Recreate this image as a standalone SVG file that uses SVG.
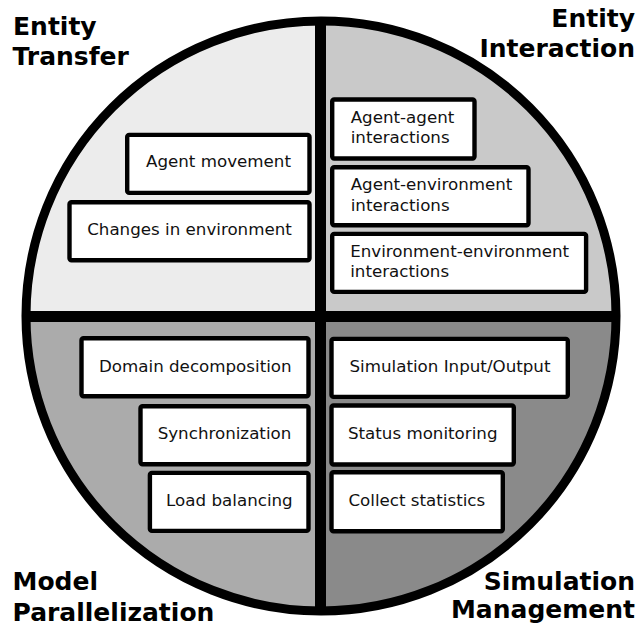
<svg xmlns="http://www.w3.org/2000/svg" width="639" height="628" viewBox="0 0 639 628">
  <style>
    .box { fill: #ffffff; stroke: #000000; stroke-width: 4.4; }
    .lbl { font-family: "DejaVu Sans", "Liberation Sans", sans-serif; font-size: 16.7px; fill: #111111; }
    .mid { text-anchor: middle; }
    .title { font-family: "DejaVu Sans", "Liberation Sans", sans-serif; font-size: 25px; font-weight: bold; fill: #000000; }
    .end { text-anchor: end; }
    .div { stroke: #000000; stroke-width: 11; }
  </style>

  <!-- quadrant fills -->
  <g id="quadrants">
    <path d="M321,316 L26,316 A295,295 0 0 1 321,21 Z" fill="#ececec"/>
    <path d="M321,316 L321,21 A295,295 0 0 1 616,316 Z" fill="#c9c9c9"/>
    <path d="M321,316 L26,316 A295,295 0 0 0 321,611 Z" fill="#ababab"/>
    <path d="M321,316 L616,316 A295,295 0 0 1 321,611 Z" fill="#8a8a8a"/>
  </g>

  <!-- outline and dividers -->
  <g id="connectors">
    <circle cx="321" cy="316" r="295" fill="none" stroke="#000000" stroke-width="9"/>
    <line class="div" x1="320.5" y1="21" x2="320.5" y2="611"/>
    <line class="div" x1="26" y1="316.5" x2="616" y2="316.5"/>
  </g>

  <!-- quadrant titles -->
  <g id="title-transfer">
    <text class="title" x="13" y="35">Entity</text>
    <text class="title" x="12.5" y="65">Transfer</text>
  </g>
  <g id="title-interaction">
    <text class="title end" x="635" y="27">Entity</text>
    <text class="title end" x="635" y="57">Interaction</text>
  </g>
  <g id="title-parallelization">
    <text class="title" x="12.5" y="590">Model</text>
    <text class="title" x="12.5" y="620.5">Parallelization</text>
  </g>
  <g id="title-management">
    <text class="title end" x="635" y="590">Simulation</text>
    <text class="title end" x="635" y="618">Management</text>
  </g>

  <!-- Entity Transfer -->
  <g id="agent-movement">
    <rect class="box" x="127.2" y="134.9" width="182.3" height="58" rx="2"/>
    <text class="lbl mid" x="218.5" y="166.7">Agent movement</text>
  </g>
  <g id="changes-in-environment">
    <rect class="box" x="69.5" y="202.2" width="240" height="58" rx="2"/>
    <text class="lbl mid" x="189.5" y="235">Changes in environment</text>
  </g>

  <!-- Entity Interaction -->
  <g id="agent-agent">
    <rect class="box" x="332.2" y="99.5" width="142.3" height="59" rx="2"/>
    <text class="lbl" x="350.7" y="123.3">Agent-agent</text>
    <text class="lbl" x="350.7" y="143.3">interactions</text>
  </g>
  <g id="agent-environment">
    <rect class="box" x="332.2" y="167.2" width="196.3" height="58" rx="2"/>
    <text class="lbl" x="350.7" y="190">Agent-environment</text>
    <text class="lbl" x="350.7" y="210.5">interactions</text>
  </g>
  <g id="environment-environment">
    <rect class="box" x="332.2" y="233.9" width="253.9" height="58" rx="2"/>
    <text class="lbl" x="350.2" y="256.7">Environment-environment</text>
    <text class="lbl" x="350.2" y="276.7">interactions</text>
  </g>

  <!-- Model Parallelization -->
  <g id="domain-decomposition">
    <rect class="box" x="81.5" y="338.2" width="227" height="58" rx="2"/>
    <text class="lbl mid" x="195.3" y="371.7">Domain decomposition</text>
  </g>
  <g id="synchronization">
    <rect class="box" x="140.5" y="406.2" width="168" height="58" rx="2"/>
    <text class="lbl mid" x="224.5" y="438.5">Synchronization</text>
  </g>
  <g id="load-balancing">
    <rect class="box" x="149.9" y="472.9" width="158.6" height="58" rx="2"/>
    <text class="lbl mid" x="229.4" y="506">Load balancing</text>
  </g>

  <!-- Simulation Management -->
  <g id="simulation-io">
    <rect class="box" x="331.5" y="338.9" width="236.3" height="58" rx="2"/>
    <text class="lbl mid" x="450" y="371.7">Simulation Input/Output</text>
  </g>
  <g id="status-monitoring">
    <rect class="box" x="331.5" y="405.5" width="182.3" height="59" rx="2"/>
    <text class="lbl mid" x="422.7" y="439.3">Status monitoring</text>
  </g>
  <g id="collect-statistics">
    <rect class="box" x="331.5" y="472.2" width="171.3" height="59" rx="2"/>
    <text class="lbl mid" x="416.8" y="506">Collect statistics</text>
  </g>
</svg>
